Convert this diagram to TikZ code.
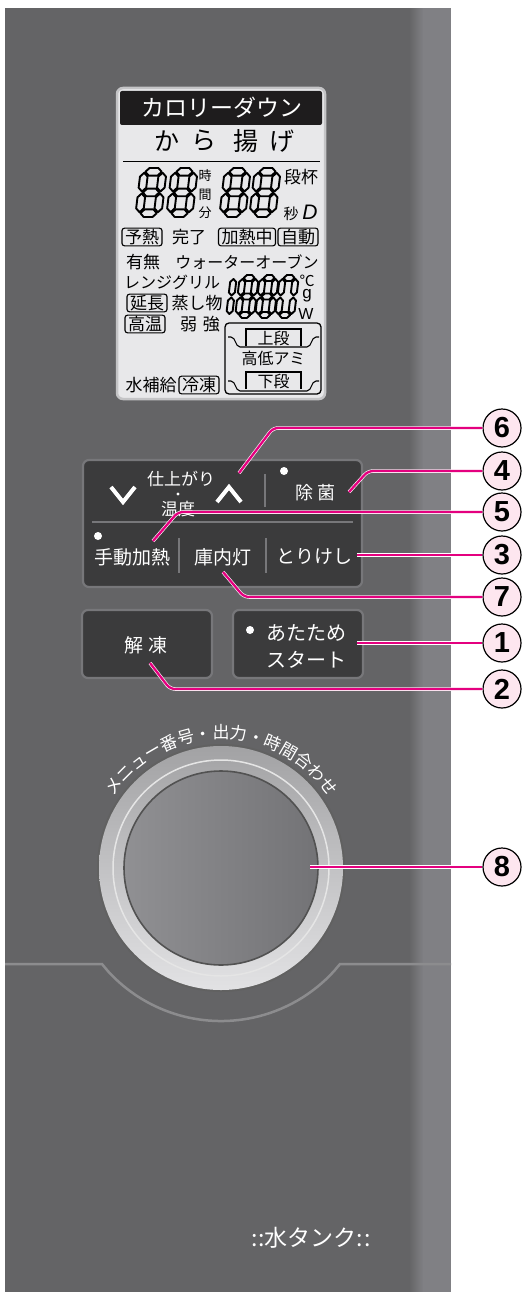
\documentclass[tikz,border=0pt]{standalone}
\usepackage{fontspec}
\setmainfont{Noto Sans CJK JP}
\newfontfamily\numfont{Liberation Sans}
\usetikzlibrary{calc, positioning, decorations.text}

\definecolor{panelgray}{HTML}{646466}
\definecolor{striplight}{HTML}{808084}
\definecolor{btnfill}{HTML}{3B3B3C}
\definecolor{btnedge}{HTML}{77777A}
\definecolor{lcdbg}{HTML}{E8E8EA}
\definecolor{lcdframe}{HTML}{C4C4C6}
\definecolor{lcdblack}{HTML}{1E1C1D}
\definecolor{calloutpink}{HTML}{E4007F}
\definecolor{circfill}{HTML}{FDE6EF}
\definecolor{groove}{HTML}{8C8C8E}
\definecolor{ringtop}{HTML}{A2A2A4}
\definecolor{ringbot}{HTML}{E2E2E4}
\definecolor{facelight}{HTML}{909093}
\definecolor{facedark}{HTML}{737376}

\newcommand{\fsz}[1]{\fontsize{#1}{#1}\selectfont}

% seven segment pieces (d = \sd, size \dw x \dh)
\newcommand{\lcdh}[3]{\filldraw[lcdseg] (#1,#2) -- ++(\sd,-\sd) -- (#3-\sd,#2-\sd) -- (#3,#2) -- (#3-\sd,#2+\sd) -- (#1+\sd,#2+\sd) -- cycle;}
\newcommand{\lcdv}[3]{\filldraw[lcdseg] (#1,#2) -- ++(\sd,\sd) -- (#1+\sd,#3-\sd) -- (#1,#3) -- (#1-\sd,#3-\sd) -- (#1-\sd,#2+\sd) -- cycle;}
\newcommand{\sega}{\lcdh{\sd+1}{\sd}{\dw-\sd-1}}
\newcommand{\segg}{\lcdh{\sd+1}{\dh/2}{\dw-\sd-1}}
\newcommand{\segd}{\lcdh{\sd+1}{\dh-\sd}{\dw-\sd-1}}
\newcommand{\segf}{\lcdv{\sd}{\sd+1}{\dh/2-1}}
\newcommand{\segb}{\lcdv{\dw-\sd}{\sd+1}{\dh/2-1}}
\newcommand{\sege}{\lcdv{\sd}{\dh/2+1}{\dh-\sd-1}}
\newcommand{\segc}{\lcdv{\dw-\sd}{\dh/2+1}{\dh-\sd-1}}
\newcommand{\lcddigit}[6]{%
  \begin{scope}[shift={(#1,#2)}, xslant=0.12]
    \pgfmathsetmacro{\dw}{#3}\pgfmathsetmacro{\dh}{#4}\pgfmathsetmacro{\sd}{#5}
    \foreach \s in {#6} {\csname seg\s\endcsname}
  \end{scope}}

\begin{document}
\begin{tikzpicture}[x=1pt, y=-1pt]
  \tikzstyle{lcdtxt} = [font=\fsz{17}, inner sep=0pt, text=black]
  \tikzstyle{lcdbox} = [draw, rounded corners=2.5pt, line width=1.1pt, font=\fsz{17}, inner xsep=3pt, inner ysep=1pt]
  \tikzstyle{lcdseg} = [fill=lcdbg, draw=black, line width=1.9pt, line join=round]
  \tikzstyle{btntxt} = [font=\fsz{19}, text=white, inner sep=0pt]
  \tikzstyle{btn} = [fill=btnfill, draw=btnedge, line width=2.2pt, rounded corners=6pt]
  \tikzstyle{divider} = [draw=btnedge, line width=2pt]
  \tikzstyle{chevron} = [draw=white, line width=4pt]
  \tikzstyle{num} = [circle, draw=black, fill=circfill, line width=1.2pt, minimum size=38pt, inner sep=0pt, font=\numfont\bfseries\fsz{29}]
  \tikzstyle{callout} = [draw=white, double=calloutpink, double distance=2.3pt, line width=0.6pt, rounded corners=5pt]

  \path[use as bounding box, fill=white] (0,0) rectangle (522,1292);

  % front panel
  \fill[panelgray] (5,8) rectangle (451,1292);
  \foreach \i in {0,...,13}
    \fill[striplight!\the\numexpr\i*7\relax!panelgray] (409+\i,8) rectangle (410.2+\i,1292);
  \fill[striplight] (423,8) rectangle (451,1292);

  % display
  \draw[fill=lcdbg, draw=lcdframe, line width=2.5pt, rounded corners=6pt] (117,88) rectangle (325,399);
  \fill[lcdblack, rounded corners=2pt] (120,91) rectangle (322,125);
  \node[lcdtxt, text=white, font=\fsz{23}] (hdr) at (222,108) {カロリーダウン};
  \foreach \ch/\xx in {か/167, ら/204, 揚/246, げ/282}
    \node[lcdtxt, font=\fsz{25}] (menu\xx) at (\xx,141) {\ch};
  \draw[line width=1pt] (123,162) -- (320,162);

  \lcddigit{141}{168}{26}{49}{3.8}{a,b,c,d,e,f,g}
  \lcddigit{172}{168}{26}{49}{3.8}{a,b,c,d,e,f,g}
  \lcddigit{225}{168}{26}{49}{3.8}{a,b,c,d,e,f,g}
  \lcddigit{255}{168}{26}{49}{3.8}{a,b,c,d,e,f,g}
  \node[lcdtxt, font=\fsz{13}] (ji) at (205,176) {時};
  \node[lcdtxt, font=\fsz{13}] (kan) at (205,195) {間};
  \node[lcdtxt, font=\fsz{13}] (fun) at (205,213) {分};
  \node[lcdtxt] (danhai) at (301,177) {段杯};
  \node[lcdtxt, font=\fsz{15}] (byo) at (291,214) {秒};
  \node[lcdtxt, font=\numfont\itshape\fsz{21}] (dee) at (310,212) {D};

  \node[lcdbox] (yonetsu) at (142,237) {予熱};
  \node[lcdtxt] (kanryo) at (189,237) {完了};
  \node[lcdbox] (kanetsu) at (247,237) {加熱中};
  \node[lcdbox] (jido) at (298,237) {自動};
  \node[lcdtxt] (umu) at (143,262) {有無};
  \node[lcdtxt, font=\fsz{16}] (oven) at (247,262) {ウォーターオーブン};
  \node[lcdtxt, font=\fsz{16}] (range) at (172,282) {レンジグリル};
  \node[lcdbox] (encho) at (147,303) {延長};
  \node[lcdtxt] (mushi) at (197,303) {蒸し物};
  \node[lcdbox] (koon) at (145,324) {高温};
  \node[lcdtxt] (jakkyo) at (200,324) {弱\hspace{6pt}強};
  \node[lcdtxt] (mizu) at (151,385) {水補給};
  \node[lcdbox] (reito) at (199,385) {冷凍};

  \lcddigit{228}{275}{9}{43}{3}{b,c}
  \lcddigit{240}{275}{19}{43}{3}{a,b,c,d,e,f,g}
  \lcddigit{260}{275}{19}{43}{3}{a,b,c,d,e,f,g}
  \lcddigit{280}{275}{19}{43}{3}{a,b,c,d,e,f}
  \node[lcdtxt, font=\fsz{15}] (degc) at (307,281) {℃};
  \node[lcdtxt, font=\numfont\fsz{17}] (gram) at (307,296) {g};
  \node[lcdtxt, font=\numfont\fsz{16}] (watt) at (306,314) {W};

  % rack indicator
  \draw[line width=1.3pt, rounded corners=4pt] (225,323) rectangle (321,394);
  \draw[line width=1.1pt] (246,346) -- (246,329) -- (301,329) -- (301,346);
  \draw[line width=1.1pt, rounded corners=2pt] (228,337) -- (233,337) -- (238,347) -- (309,347) -- (314,337) -- (319,337);
  \node[lcdtxt, font=\fsz{16}] (jodan) at (273.5,338) {上段};
  \node[lcdtxt, font=\fsz{16}] (ami) at (273.5,358) {高低アミ};
  \draw[line width=1.1pt] (246,389) -- (246,372) -- (301,372) -- (301,389);
  \draw[line width=1.1pt, rounded corners=2pt] (228,381) -- (233,381) -- (238,391) -- (309,391) -- (314,381) -- (319,381);
  \node[lcdtxt, font=\fsz{16}] (gedan) at (273.5,381) {下段};

  % upper button block
  \draw[btn] (83,460) rectangle (362,587);
  \draw[divider] (92,522) -- (353,522);
  \draw[divider] (265,474) -- (265,507);
  \draw[divider] (179,538) -- (179,573);
  \draw[divider] (266,538) -- (266,573);
  \draw[chevron] (111,487) -- (123,502) -- (135,487);
  \draw[chevron] (217,502) -- (229,487) -- (241,502);
  \node[btntxt, font=\fsz{17}] (shiage) at (181,479) {仕上がり};
  \fill[white] (178,494) circle (1.6);
  \node[btntxt, font=\fsz{17}] (ondo) at (178,509) {温度};
  \fill[white] (284,471) circle (4);
  \node[btntxt, font=\fsz{18}] (jokin) at (315,493) {除\hspace{4pt}菌};
  \fill[white] (98,536) circle (4);
  \node[btntxt] (shudo) at (132,557) {手動加熱};
  \node[btntxt] (konaito) at (223,557) {庫内灯};
  \node[btntxt] (torikeshi) at (314,557) {とりけし};

  % lower buttons
  \draw[btn] (82,610) rectangle (212,678);
  \draw[btn] (233,610) rectangle (363,678);
  \node[btntxt] (kaito) at (146,645) {解\hspace{5pt}凍};
  \fill[white] (250,630) circle (4);
  \node[btntxt, font=\fsz{20}] (atatame) at (306,633) {あたため};
  \node[btntxt, font=\fsz{20}] (start) at (306,660) {スタート};

  % dial
  \draw[groove, line width=2.5pt] (5,964) -- (102,964) -- (107.8,971)
    arc[start angle=137.7, end angle=42.3, radius=153] -- (340,964) -- (451,964);
  \fill[black!62] (221,868) circle (124);
  \shade[top color=ringtop, bottom color=ringbot] (221,868) circle (122);
  \draw[white!80!gray, line width=1.5pt] (221,868) circle (108);
  \shade[left color=facelight, right color=facedark] (221,868) circle (97);
  \draw[black!68, line width=1.6pt] (221,868) circle (97);
  \path[decorate, decoration={text along path, text align=center,
      text={|\fsz{17}\color{white}|メニュー番号・出力・時間合わせ}}]
    ($(221,868)+(200:129)$) arc[start angle=200, end angle=340, radius=129];

  \node[btntxt, font=\fsz{23}] (tank) at (311,1238) {:\kern1pt:水タンク:\kern1pt:};

  % callouts
  \node[num] (c6) at (502,428) {6};
  \node[num] (c4) at (502,471) {4};
  \node[num] (c5) at (502,512) {5};
  \node[num] (c3) at (502,555) {3};
  \node[num] (c7) at (502,597) {7};
  \node[num] (c1) at (502,643) {1};
  \node[num] (c2) at (502,689) {2};
  \node[num] (c8) at (502,867) {8};
  \coordinate (p6) at (239,473);
  \coordinate (p4) at (349,492);
  \coordinate (p5) at (153,541);
  \coordinate (p3) at (357,555);
  \coordinate (p7) at (223,572);
  \coordinate (p1) at (357,643);
  \coordinate (p2) at (150,663);
  \coordinate (p8) at (310,867);

  \draw[callout] (p6) -- ++(34,-45) -- (c6);
  \draw[callout] (p4) -- ++(19,-21) -- (c4);
  \draw[callout] (p5) -- ++(25,-29) -- (c5);
  \draw[callout] (p3) -- (c3);
  \draw[callout] (p7) -- ++(21,25) -- (c7);
  \draw[callout] (p1) -- (c1);
  \draw[callout] (p2) -- ++(20,26) -- (c2);
  \draw[callout] (p8) -- (c8);
\end{tikzpicture}
\end{document}
